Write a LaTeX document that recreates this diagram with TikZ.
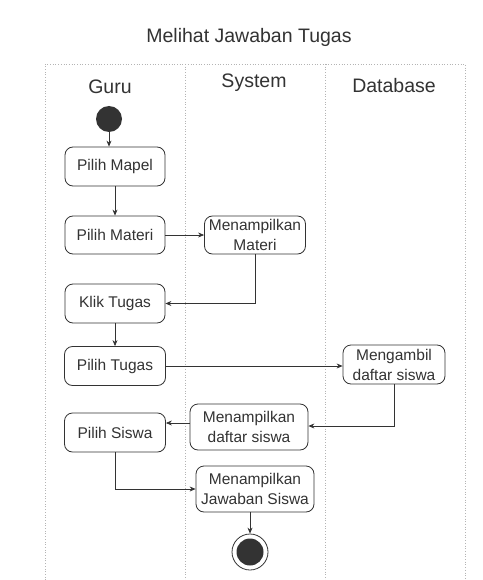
\documentclass[tikz,border=0pt]{standalone}
\usepackage{fontspec}
\setmainfont{Liberation Sans}
\usetikzlibrary{arrows.meta}
\definecolor{ink}{HTML}{333333}
\definecolor{lane}{HTML}{B4B4B4}
\tikzset{
  act/.style={draw=ink, rounded corners=8pt, line width=0.8pt, text=ink,
    font=\fontsize{15.5}{20}\selectfont, align=center, inner sep=0pt},
  flow/.style={draw=ink, line width=0.7pt, -{Stealth[length=6pt,width=5pt]}},
  heading/.style={text=ink, font=\fontsize{19.5}{22}\selectfont, inner sep=0pt},
  swim/.style={draw=lane, line width=0.7pt, dotted}
}
\begin{document}
\begin{tikzpicture}[x=1pt, y=-1pt]
\useasboundingbox (0,0) rectangle (482,580);
\fill[white] (0,0) rectangle (482,580);

% title and swimlanes
\node[heading] (title) at (249,37) {Melihat Jawaban Tugas};
\coordinate (tl) at (45,64);
\coordinate (tr) at (465,64);
\coordinate (bl) at (45,580);
\coordinate (br) at (465,580);
\coordinate (d1t) at (185,64);
\coordinate (d1b) at (185,580);
\coordinate (d2t) at (325,64);
\coordinate (d2b) at (325,580);
\draw[swim] (bl) -- (tl) -- (tr) -- (br);
\draw[swim] (d1t) -- (d1b);
\draw[swim] (d2t) -- (d2b);
\node[heading] (guru) at (110,87) {Guru};
\node[heading] (system) at (254,83) {System};
\node[heading] (database) at (394,86) {Database};

% start and end
\node[circle, fill=ink, minimum size=26pt, inner sep=0pt] (start) at (109,119) {};
\node[circle, draw=ink, line width=0.8pt, minimum size=36pt, inner sep=0pt] (end) at (250,552) {};
\node[circle, fill=ink, minimum size=27pt, inner sep=0pt] (endin) at (end) {};

% activities
\node[act, minimum width=100pt, minimum height=39pt] (mapel) at (115,166.5) {Pilih Mapel};
\node[act, minimum width=100pt, minimum height=38pt] (materi) at (115,235) {Pilih Materi};
\node[act, minimum width=101pt, minimum height=38pt] (tmateri) at (255,235) {Menampilkan\\Materi};
\node[act, minimum width=100pt, minimum height=39pt] (klik) at (115,303.5) {Klik Tugas};
\node[act, minimum width=101pt, minimum height=39pt] (tugas) at (115,366) {Pilih Tugas};
\node[act, minimum width=102pt, minimum height=39pt] (ambil) at (394,364.5) {Mengambil\\daftar siswa};
\node[act, minimum width=118pt, minimum height=46pt] (tsiswa) at (249,427) {Menampilkan\\daftar siswa};
\node[act, minimum width=101pt, minimum height=39pt] (siswa) at (115,432.5) {Pilih Siswa};
\node[act, minimum width=118pt, minimum height=46pt] (jawab) at (255,489) {Menampilkan\\Jawaban Siswa};

% control flow
\draw[flow] (start) -- (start |- mapel.north);
\draw[flow] (mapel) -- (materi);
\draw[flow] (materi) -- (tmateri);
\draw[flow] (tmateri.south) |- (klik.east);
\draw[flow] (klik) -- (tugas);
\draw[flow] (tugas.east) -- (ambil.west |- tugas.east);
\draw[flow] (ambil.south) |- ([yshift=1pt]tsiswa.east);
\draw[flow] ([yshift=4pt]tsiswa.west) -- ([yshift=4pt]tsiswa.west -| siswa.east);
\draw[flow] (siswa.south) |- (jawab.west);
\draw[flow] (jawab.south -| end) -- (end.north);
\end{tikzpicture}
\end{document}
